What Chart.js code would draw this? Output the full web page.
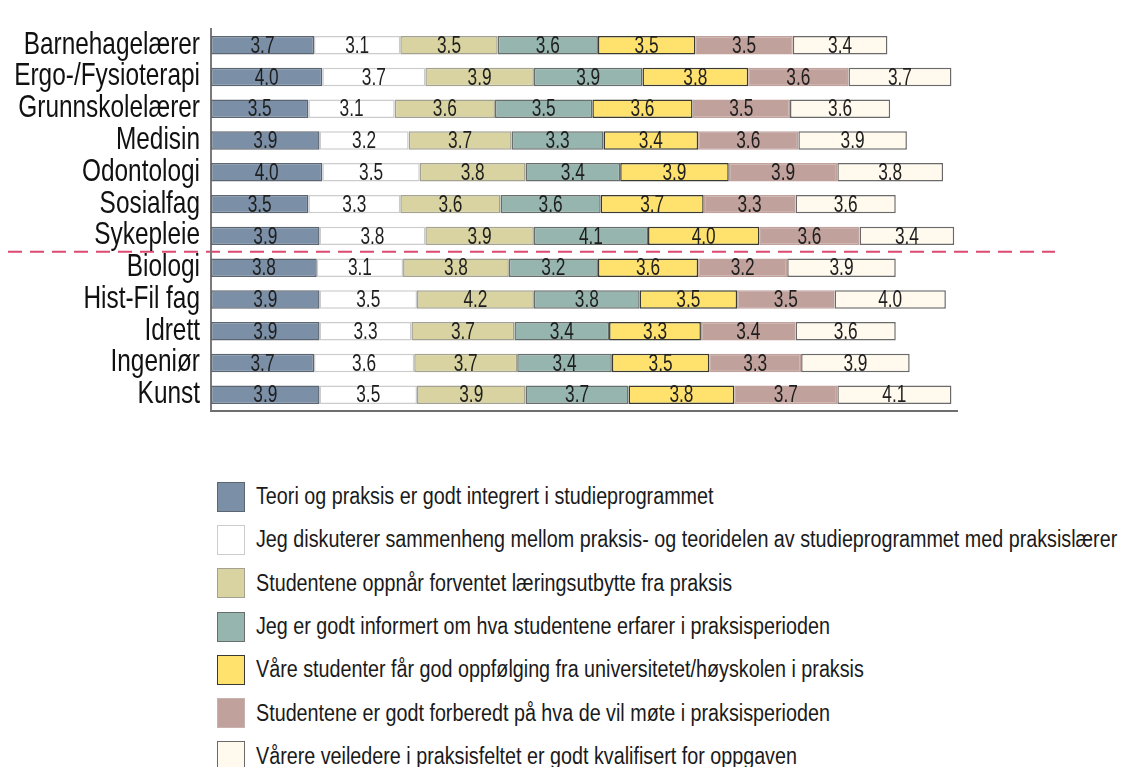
<!DOCTYPE html>
<html>
<head>
<meta charset="utf-8">
<title>Praksis</title>
<script src="https://cdn.jsdelivr.net/npm/chart.js@4.4.0/dist/chart.umd.min.js"></script>
<style>
  body {
    margin: 0;
    background: #fff;
    width: 1121px;
    height: 767px;
    overflow: hidden;
    position: relative;
    font-family: 'Liberation Sans', Arial, sans-serif;
  }
  #chart { position: absolute; left: 0; top: 0; }
  #legend {
    position: absolute;
    left: 217px;
    top: 475px;
    margin: 0;
    padding: 0;
    list-style: none;
  }
  #legend li {
    display: flex;
    align-items: center;
    height: 43.3px;
    font-size: 23.5px;
    color: #1a1a1a;
    white-space: nowrap;
  }
  #legend .box {
    width: 28px;
    height: 30px;
    box-sizing: border-box;
    border: 1.5px solid #888;
    margin-right: 11px;
    flex: none;
  }
  /* the original uses a narrow face; squeeze Liberation Sans to match */
  #legend .txt {
    display: inline-block;
    transform: scaleX(0.84);
    transform-origin: left center;
  }
</style>
</head>
<body>
<canvas id="chart" width="1121" height="440"></canvas>
<ul id="legend"></ul>
<script>
const FONT = "'Liberation Sans', Arial, sans-serif";

// --- data ---
const categories = ['Barnehagelærer', 'Ergo-/Fysioterapi', 'Grunnskolelærer', 'Medisin', 'Odontologi',
  'Sosialfag', 'Sykepleie', 'Biologi', 'Hist-Fil fag', 'Idrett', 'Ingeniør', 'Kunst'];
const dividerAfter = 'Sykepleie';

const seriesNames = [
  'Teori og praksis er godt integrert i studieprogrammet',
  'Jeg diskuterer sammenheng mellom praksis- og teoridelen av studieprogrammet med praksislærer',
  'Studentene oppnår forventet læringsutbytte fra praksis',
  'Jeg er godt informert om hva studentene erfarer i praksisperioden',
  'Våre studenter får god oppfølging fra universitetet/høyskolen i praksis',
  'Studentene er godt forberedt på hva de vil møte i praksisperioden',
  'Vårere veiledere i praksisfeltet er godt kvalifisert for oppgaven'
];

const teori       = [3.7, 4.0, 3.5, 3.9, 4.0, 3.5, 3.9, 3.8, 3.9, 3.9, 3.7, 3.9];
const diskuterer  = [3.1, 3.7, 3.1, 3.2, 3.5, 3.3, 3.8, 3.1, 3.5, 3.3, 3.6, 3.5];
const utbytte     = [3.5, 3.9, 3.6, 3.7, 3.8, 3.6, 3.9, 3.8, 4.2, 3.7, 3.7, 3.9];
const informert   = [3.6, 3.9, 3.5, 3.3, 3.4, 3.6, 4.1, 3.2, 3.8, 3.4, 3.4, 3.7];
const oppfolging  = [3.5, 3.8, 3.6, 3.4, 3.9, 3.7, 4.0, 3.6, 3.5, 3.3, 3.5, 3.8];
const forberedt   = [3.5, 3.6, 3.5, 3.6, 3.9, 3.3, 3.6, 3.2, 3.5, 3.4, 3.3, 3.7];
const veiledere   = [3.4, 3.7, 3.6, 3.9, 3.8, 3.6, 3.4, 3.9, 4.0, 3.6, 3.9, 4.1];

const seriesValues = [teori, diskuterer, utbytte, informert, oppfolging, forberedt, veiledere];
const fillColors   = ['#7b8fa7', '#ffffff', '#d8d3a0', '#95b5ae', '#ffe16e', '#c0a19c', '#fff9ee'];
const edgeColors   = ['#5c6672', '#cccccc', '#a3a190', '#686e6c', '#3a3a32', '#c0a19c', '#6a6a6a'];

// values written in the middle of each segment (narrowed)
const valueLabels = {
    id: 'valueLabels',
    afterDatasetsDraw(chart) {
        const ctx = chart.ctx;
        ctx.save();
        ctx.font = '24px ' + FONT;
        ctx.fillStyle = '#1e1e1e';
        ctx.textAlign = 'center';
        ctx.textBaseline = 'middle';
        chart.data.datasets.forEach((ds, i) => {
            chart.getDatasetMeta(i).data.forEach((bar, j) => {
                ctx.save();
                ctx.translate((bar.x + bar.base) / 2, bar.y + 1);
                ctx.scale(0.72, 1);
                ctx.fillText(ds.data[j].toFixed(1), 0, 0);
                ctx.restore();
            });
        });
        ctx.restore();
    }
};

// squeeze the category labels horizontally, anchored at their right edge
const narrowTicks = {
    id: 'narrowTicks',
    afterLayout(chart) {
        const sc = chart.scales.y;
        if (sc._narrowed) return;
        sc._narrowed = true;
        const orig = sc.drawLabels.bind(sc);
        sc._computeLabelArea = () => undefined;   // no clip, the squeeze keeps them inside
        sc.drawLabels = function (area) {
            const ctx = this.ctx;
            const x0 = this.right - this.options.ticks.padding;
            ctx.save();
            ctx.translate(x0, 0);
            ctx.scale(0.8, 1);
            ctx.translate(-x0, 0);
            orig(area);
            ctx.restore();
        };
    }
};

// red dashed line between the two groups of programmes
const divider = {
    id: 'divider',
    beforeDraw(chart) {
        const y = chart.scales.y;
        const idx = categories.indexOf(dividerAfter);
        const py = (y.getPixelForValue(idx) + y.getPixelForValue(idx + 1)) / 2;
        const ctx = chart.ctx;
        ctx.save();
        ctx.strokeStyle = '#dc4a72';
        ctx.lineWidth = 2;
        ctx.setLineDash([14, 8]);
        ctx.beginPath();
        ctx.moveTo(8, py);
        ctx.lineTo(1055, py);
        ctx.stroke();
        ctx.restore();
    }
};

const chart = new Chart(document.getElementById('chart'), {
    type: 'bar',
    data: {
        labels: categories,
        datasets: seriesValues.map((vals, i) => ({
            label: seriesNames[i],
            data: vals,
            backgroundColor: fillColors[i],
            borderColor: edgeColors[i],
            borderWidth: 1.5,
            borderSkipped: false,
            barPercentage: 0.58,
            categoryPercentage: 1.0
        }))
    },
    options: {
        indexAxis: 'y',
        responsive: false,
        animation: false,
        layout: { padding: { top: 11, right: 164, bottom: 25, left: 0 } },
        plugins: {
            legend: { display: false },
            tooltip: { enabled: false }
        },
        scales: {
            x: {
                stacked: true,
                min: 0,
                max: 26.8,
                ticks: { display: false },
                grid: { display: false, drawTicks: false },
                border: { display: true, color: '#6e6e6e', width: 2 },
                afterFit: s => { s.height = 0; }
            },
            y: {
                stacked: true,
                ticks: { autoSkip: false, padding: 11, color: '#111', font: { family: FONT, size: 30.5 } },
                grid: { display: false, drawTicks: false },
                border: { display: true, color: '#7a7a7a', width: 2 },
                afterFit: s => { s.width = 211; }
            }
        }
    },
    plugins: [narrowTicks, divider, valueLabels]
});

// legend list built from the chart's datasets
const legend = document.getElementById('legend');
chart.data.datasets.forEach(ds => {
    const li = document.createElement('li');
    const edge = ds.borderColor === '#c0a19c' ? '#c9b3af' : ds.borderColor;
    li.innerHTML = `<span class="box" style="background:${ds.backgroundColor};border-color:${edge}"></span><span class="txt">${ds.label}</span>`;
    legend.appendChild(li);
});
</script>
</body>
</html>
